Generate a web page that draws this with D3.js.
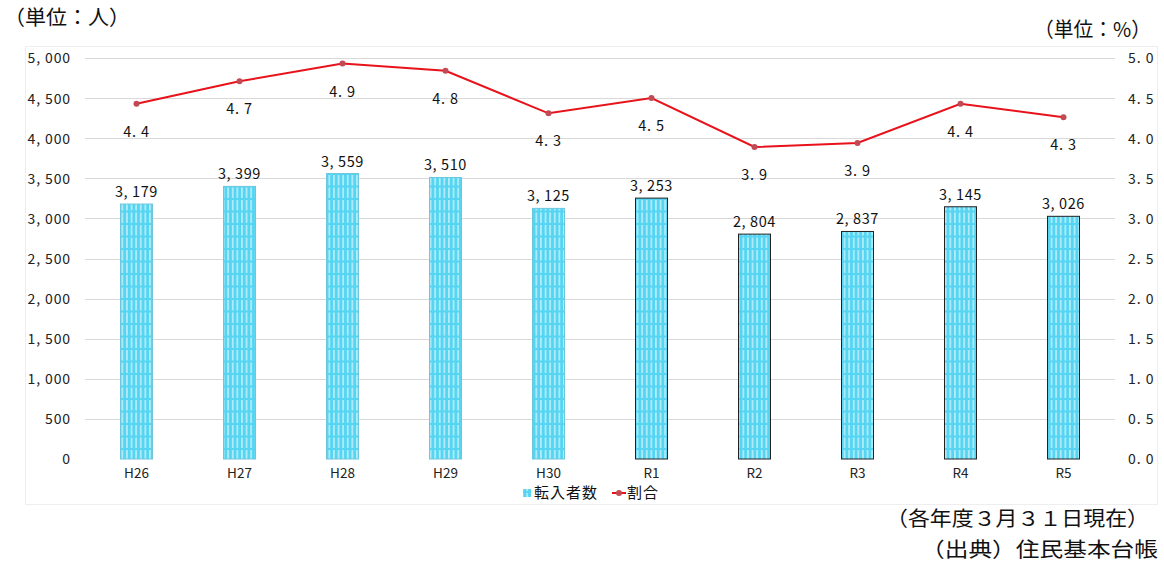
<!DOCTYPE html>
<html><head><meta charset="utf-8">
<script src="https://cdn.jsdelivr.net/npm/d3@7"></script>
<style>
body{margin:0;background:#fff;}
text{font-family:"Noto Sans CJK JP","Noto Sans",sans-serif;}
</style></head>
<body><svg id="c" width="1164" height="564"></svg>
<script>
const categories = ["H26","H27","H28","H29","H30","R1","R2","R3","R4","R5"];
const transfers = [3179,3399,3559,3510,3125,3253,2804,2837,3145,3026];
const rates = [4.43,4.71,4.93,4.84,4.31,4.50,3.89,3.94,4.43,4.26];
const leftTicks = [0,500,1000,1500,2000,2500,3000,3500,4000,4500,5000];
const rightTicks = [0,0.5,1,1.5,2,2.5,3,3.5,4,4.5,5];

const svg = d3.select("#c");
const x0 = 85, x1 = 1115, yTop = 58, yBot = 459;
const x = d3.scaleBand().domain(categories).range([x0,x1]);
const yL = d3.scaleLinear().domain([0,5000]).range([yBot,yTop]);
const yR = d3.scaleLinear().domain([0,5]).range([yBot,yTop]);
const fmtN = v => d3.format(",")(v).replace(",", ", ");
const fmtR = v => v.toFixed(1).replace(".", ". ");

// pattern
const defs = svg.append("defs");
const pat = defs.append("pattern").attr("id","stripe").attr("patternUnits","userSpaceOnUse")
  .attr("width",4.6).attr("height",12.5);
pat.append("rect").attr("width",4.6).attr("height",12.5).attr("fill","#55d5f2");
pat.append("rect").attr("x",2.2).attr("y",0).attr("width",1.1).attr("height",10.5).attr("fill","#e8fafe");

// frame
svg.append("rect").attr("x",25.5).attr("y",46.5).attr("width",1132).attr("height",458)
  .attr("fill","none").attr("stroke","#eeeeee");

// gridlines
svg.append("g").selectAll("line").data(leftTicks.filter(d=>d>0)).join("line")
  .attr("x1",x0).attr("x2",x1).attr("y1",d=>Math.round(yL(d))+0.5).attr("y2",d=>Math.round(yL(d))+0.5)
  .attr("stroke","#d9d9d9").attr("stroke-width",1);

// left axis
const gL = svg.append("g").attr("transform",`translate(${x0-14},0)`)
  .call(d3.axisLeft(yL).tickValues(leftTicks).tickFormat(fmtN).tickSize(0).tickPadding(0));
gL.select(".domain").remove();
gL.selectAll("text").attr("font-size",14).attr("letter-spacing",0.9).attr("fill","#222").attr("dy","0.35em");

// right axis
const gR = svg.append("g").attr("transform",`translate(${x1+13},0)`)
  .call(d3.axisRight(yR).tickValues(rightTicks).tickFormat(fmtR).tickSize(0).tickPadding(0));
gR.select(".domain").remove();
gR.selectAll("text").attr("font-size",14).attr("letter-spacing",1).attr("fill","#222").attr("dy","0.35em");

// x axis
const gX = svg.append("g").attr("transform",`translate(0,${yBot+14})`)
  .call(d3.axisBottom(x).tickSize(0).tickPadding(0));
gX.select(".domain").remove();
gX.selectAll("text").attr("font-size",13.5).attr("fill","#222").attr("dy","0.35em");

// bars
const bw = 32;
svg.append("g").selectAll("rect").data(transfers).join("rect")
  .attr("x",(d,i)=>x(categories[i])+x.bandwidth()/2-bw/2)
  .attr("y",d=>yL(d)).attr("width",bw).attr("height",d=>yBot-yL(d))
  .attr("fill","url(#stripe)")
  .attr("stroke",(d,i)=> i>=5 ? "#222" : "#6cc6dc").attr("stroke-width",1);

svg.append("g").selectAll("text").data(transfers).join("text")
  .attr("x",(d,i)=>x(categories[i])+x.bandwidth()/2).attr("y",d=>yL(d)-7)
  .attr("text-anchor","middle").attr("font-size",14.5).attr("letter-spacing",0.6).attr("fill","#111").text(fmtN);

// line
const cx = (d,i)=>x(categories[i])+x.bandwidth()/2;
svg.append("path").datum(rates)
  .attr("d",d3.line().x(cx).y(d=>yR(d)))
  .attr("fill","none").attr("stroke","#e8121b").attr("stroke-width",2);
svg.append("g").selectAll("circle").data(rates).join("circle")
  .attr("cx",cx).attr("cy",d=>yR(d)).attr("r",3).attr("fill","#c24a55");
svg.append("g").selectAll("text").data(rates).join("text")
  .attr("x",cx).attr("y",d=>yR(d)+28).attr("dy","0.35em")
  .attr("text-anchor","middle").attr("font-size",14.5).attr("letter-spacing",0.8).attr("fill","#111").text(fmtR);

// legend
const lg = svg.append("g").attr("transform","translate(0,493)");
lg.append("rect").attr("x",523).attr("y",-4).attr("width",8).attr("height",8).attr("fill","url(#stripe)");
lg.append("text").attr("x",534).attr("y",0).attr("dy","0.35em").attr("font-size",15).attr("letter-spacing",1).attr("fill","#111").text("転入者数");
lg.append("line").attr("x1",612).attr("x2",626).attr("y1",0).attr("y2",0).attr("stroke","#e8121b").attr("stroke-width",2);
lg.append("circle").attr("cx",619).attr("cy",0).attr("r",3).attr("fill","#c24a55");
lg.append("text").attr("x",627).attr("y",0).attr("dy","0.35em").attr("font-size",15).attr("letter-spacing",1).attr("fill","#111").text("割合");

// titles
function title(t, xx, yy, len){
  svg.append("text").attr("x",xx).attr("y",yy).attr("dy","0.35em").attr("font-size",20.5)
    .attr("fill","#111").attr("textLength",len).attr("lengthAdjust","spacingAndGlyphs").text(t);
}
title("（単位：人）", 4, 18, 126);
title("（単位：%）", 1034, 30, 117);
title("（各年度３月３１日現在）", 886, 519, 263);
title("（出典）住民基本台帳", 921, 550, 237);
</script></body></html>
